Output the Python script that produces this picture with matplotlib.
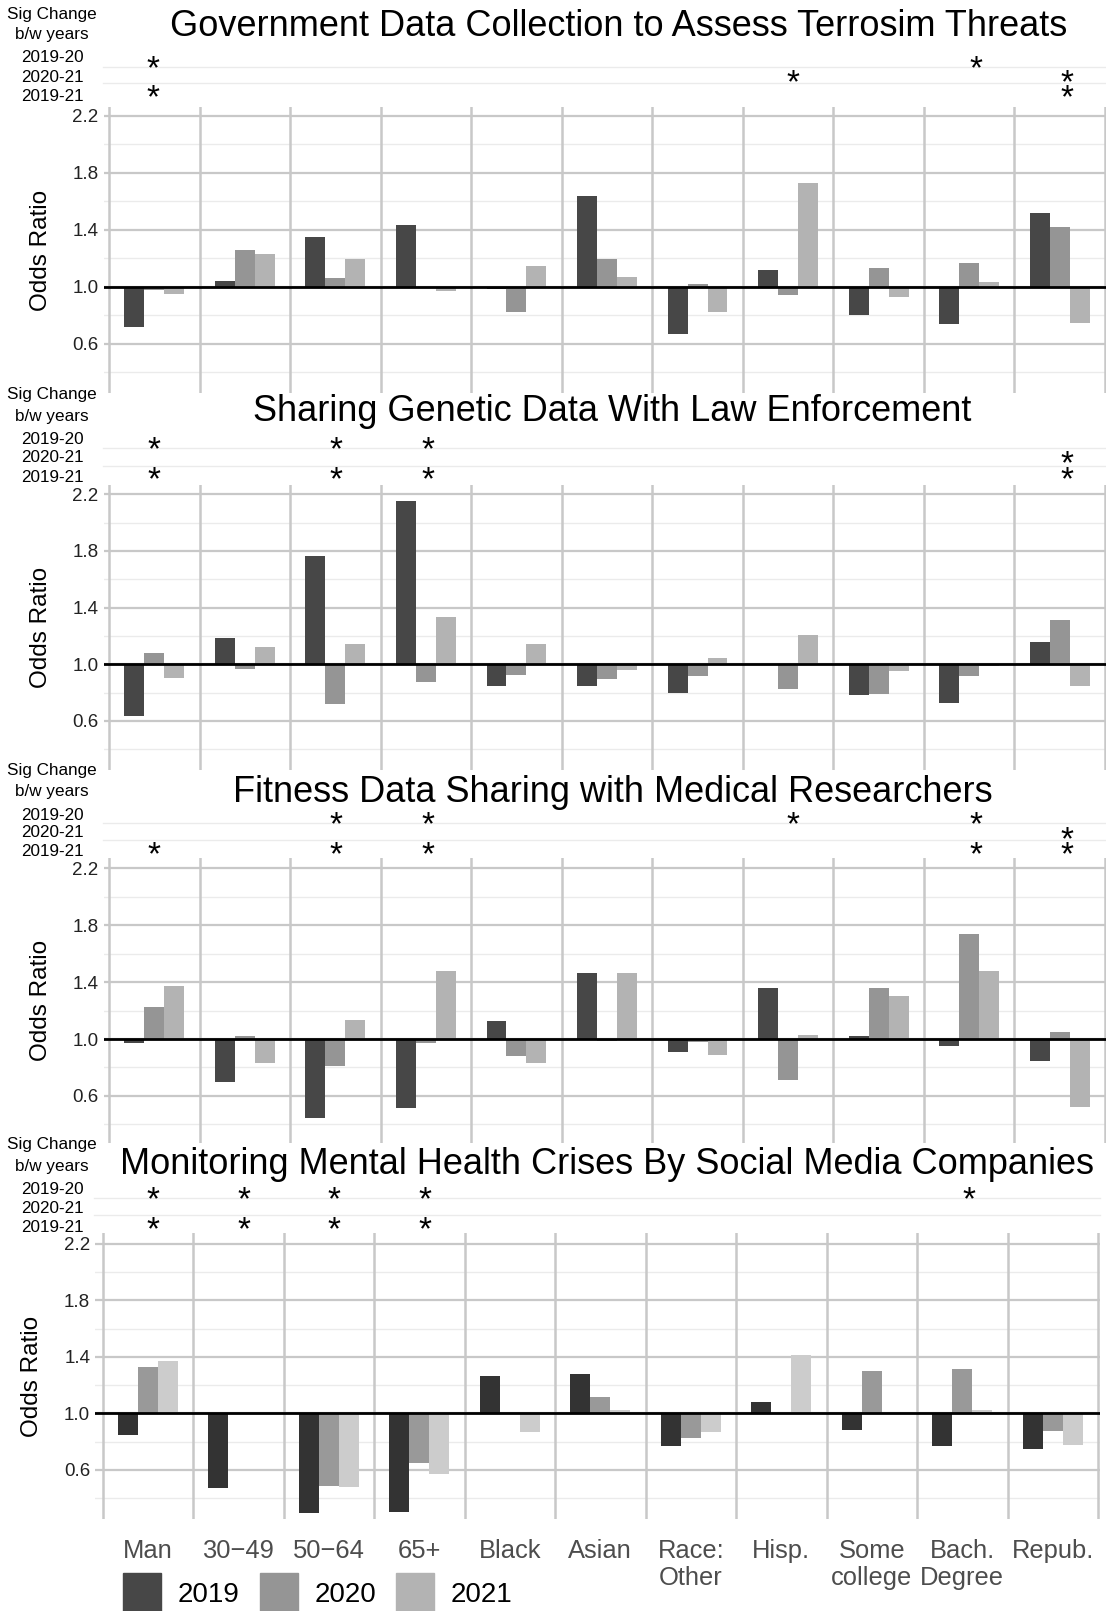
import matplotlib
matplotlib.use("Agg")
import matplotlib.pyplot as plt
from matplotlib.patches import Rectangle
from matplotlib.transforms import blended_transform_factory
import numpy as np

plt.rcParams['font.family'] = ['Liberation Sans', 'DejaVu Sans']

# ---------------- data ----------------
categories = ["Man", "30\u221249", "50\u221264", "65+", "Black", "Asian", "Race:\nOther",
              "Hisp.", "Some\ncollege", "Bach.\nDegree", "Repub."]
years = ["2019", "2020", "2021"]
sig_rows = ["2019-20", "2020-21", "2019-21"]

titles = ["Government Data Collection to Assess Terrosim Threats",
          "Sharing Genetic Data With Law Enforcement",
          "Fitness Data Sharing with Medical Researchers",
          "Monitoring Mental Health Crises By Social Media Companies"]

# odds ratios: panel -> year
terror_2019 = [0.715, 1.042, 1.35, 1.433, 0.985, 1.636, 0.668, 1.12, 0.80, 0.735, 1.515]
terror_2020 = [0.977, 1.255, 1.06, 1.0, 0.82, 1.194, 1.016, 0.94, 1.13, 1.164, 1.42]
terror_2021 = [0.95, 1.23, 1.197, 0.97, 1.147, 1.07, 0.82, 1.732, 0.93, 1.033, 0.742]

genetic_2019 = [0.633, 1.188, 1.765, 2.155, 0.845, 0.847, 0.80, 1.005, 0.784, 0.73, 1.16]
genetic_2020 = [1.082, 0.97, 0.722, 0.875, 0.927, 0.896, 0.918, 0.828, 0.788, 0.92, 1.313]
genetic_2021 = [0.90, 1.122, 1.144, 1.334, 1.146, 0.962, 1.047, 1.207, 0.95, 0.985, 0.845]

fitness_2019 = [0.972, 0.696, 0.442, 0.513, 1.125, 1.461, 0.91, 1.36, 1.02, 0.953, 0.847]
fitness_2020 = [1.228, 1.02, 0.812, 0.97, 0.882, 0.984, 0.976, 0.713, 1.358, 1.739, 1.05]
fitness_2021 = [1.376, 0.833, 1.132, 1.478, 0.833, 1.464, 0.885, 1.026, 1.30, 1.48, 0.522]

mental_2019 = [0.845, 0.468, 0.292, 0.30, 1.264, 1.278, 0.77, 1.082, 0.88, 0.767, 0.744]
mental_2020 = [1.327, 1.0, 0.487, 0.65, 1.0, 1.115, 0.828, 1.0, 1.30, 1.315, 0.875]
mental_2021 = [1.369, 1.0, 0.475, 0.572, 0.868, 1.024, 0.868, 1.41, 1.0, 1.02, 0.774]

# significant changes (category indices, 0-based) per row: 2019-20, 2020-21, 2019-21
terror_sig = [[0, 9], [7, 10], [0, 10]]
genetic_sig = [[0, 2, 3], [10], [0, 2, 3, 10]]
fitness_sig = [[2, 3, 7, 9], [10], [0, 2, 3, 9, 10]]
mental_sig = [[0, 1, 2, 3, 9], [], [0, 1, 2, 3]]

panel_values = [
    [terror_2019, terror_2020, terror_2021],
    [genetic_2019, genetic_2020, genetic_2021],
    [fitness_2019, fitness_2020, fitness_2021],
    [mental_2019, mental_2020, mental_2021],
]
panel_sigs = [terror_sig, genetic_sig, fitness_sig, mental_sig]

# ---------------- layout (pixels) ----------------
W, H = 1106, 1611
fig = plt.figure(figsize=(W / 100, H / 100), dpi=100)

def fx(x):
    return x / W

def fy(y):
    return 1 - y / H

colors_a = ["#474747", "#959595", "#b3b3b3"]
colors_b = ["#333333", "#999999", "#cccccc"]

layout = [
    dict(L=103.5, R=1106, V0=109, V1=1105, top=107, bot=393, y22=116, y10=286.7,
         title=(619, 26), lab=[14, 35, 58, 77, 96.7], stars=[62, 76, 90.7], lines=[67, 83],
         S1=153, S11=1067, colors=colors_a),
    dict(L=103.5, R=1106, V0=109, V1=1105, top=485, bot=770, y22=494.3, y10=664.3,
         title=(612, 411.7), lab=[395, 416.7, 440, 458, 477.7], stars=[443.3, 457.3, 473.3],
         lines=[448.3, 465.7], S1=153.5, S11=1067, colors=colors_a),
    dict(L=103.5, R=1106, V0=109, V1=1105, top=858.3, bot=1143, y22=868.3, y10=1039,
         title=(613, 792.7), lab=[770, 791.7, 815, 832.7, 851.7], stars=[818.3, 832.5, 847.7],
         lines=[822.7, 840], S1=153.5, S11=1067, colors=colors_a),
    dict(L=95, R=1100, V0=102.5, V1=1098, top=1233.3, bot=1519.3, y22=1244, y10=1413.3,
         title=(607, 1165), lab=[1145, 1166.7, 1189.3, 1208.3, 1227.7],
         stars=[1193.3, 1208, 1222.7], lines=[1198.3, 1215], S1=153, S11=1060,
         colors=colors_b),
]

x = np.arange(1, len(categories) + 1)
bw = 0.22
offsets = [-bw, 0.0, bw]
star_size = 24
star_em = star_size * 100 / 72.0

for p, lay in enumerate(layout):
    ax = fig.add_axes([fx(lay["L"]), fy(lay["bot"]), (lay["R"] - lay["L"]) / W,
                       (lay["bot"] - lay["top"]) / H])
    unit = (lay["V1"] - lay["V0"]) / 11.0
    ax.set_xlim(0.5 - (lay["V0"] - lay["L"]) / unit, 11.5 + (lay["R"] - lay["V1"]) / unit)
    ppu = (lay["y10"] - lay["y22"]) / 1.2
    ax.set_ylim(1.0 - (lay["bot"] - lay["y10"]) / ppu, 2.2 + (lay["y22"] - lay["top"]) / ppu)

    for v in [0.4, 0.8, 1.2, 1.6, 2.0]:
        ax.axhline(v, color="#ebebeb", lw=1.0, zorder=0)
    for v in [0.6, 1.0, 1.4, 1.8, 2.2]:
        ax.axhline(v, color="#c8c8c8", lw=1.6, zorder=0.5)
    for v in np.arange(0.5, 12, 1.0):
        ax.axvline(v, color="#c8c8c8", lw=1.8, zorder=0.5)

    for k, vals in enumerate(panel_values[p]):
        vals = np.asarray(vals)
        ax.bar(x + offsets[k], vals - 1.0, bottom=1.0, width=bw, color=lay["colors"][k],
               edgecolor="none", zorder=2)
    ax.axhline(1.0, color="black", lw=2.0, zorder=3)

    for s in ax.spines.values():
        s.set_visible(False)
    ax.set_yticks([0.6, 1.0, 1.4, 1.8, 2.2])
    ax.set_yticklabels(["0.6", "1.0", "1.4", "1.8", "2.2"])
    ax.tick_params(axis="y", length=0, pad=3.5, labelsize=13.5, labelcolor="#222222")
    ax.set_ylabel("Odds Ratio", fontsize=17.5, color="black", labelpad=15)
    if p == 3:
        ax.set_xticks(x)
        ax.set_xticklabels(categories, fontsize=18.4, color="#4d4d4d", linespacing=1.15)
        ax.tick_params(axis="x", length=0, pad=14)
    else:
        ax.set_xticks([])

    # title
    fig.text(fx(lay["title"][0]), fy(lay["title"][1]), titles[p], fontsize=26,
             ha="center", va="center", color="black")
    # sig labels
    fig.text(fx(52), fy(lay["lab"][0]), "Sig Change", fontsize=12.3, ha="center", va="center")
    fig.text(fx(52), fy(lay["lab"][1]), "b/w years", fontsize=12.3, ha="center", va="center")
    for r in range(3):
        fig.text(fx(84), fy(lay["lab"][2 + r]), sig_rows[r], fontsize=12.3, ha="right",
                 va="center")

    # significance strip: its own axes with its own category scale
    s_top, s_bot = lay["lines"][0] - 12, lay["lines"][1] + 12
    axs = fig.add_axes([fx(lay["L"] - 1), fy(s_bot), (lay["R"] - lay["L"] + 1) / W,
                        (s_bot - s_top) / H])
    axs.set_axis_off()
    su = (lay["S11"] - lay["S1"]) / 10.0
    axs.set_xlim(1 - (lay["S1"] - (lay["L"] - 1)) / su, 11 + (lay["R"] - lay["S11"]) / su)
    axs.set_ylim(0, 1)
    tline = blended_transform_factory(axs.transAxes, fig.transFigure)
    for ly in lay["lines"]:
        axs.plot([0, 1], [fy(ly), fy(ly)], transform=tline, color="#ebebeb", lw=1.0,
                 clip_on=False, zorder=0)
    trans = blended_transform_factory(axs.transData, fig.transFigure)
    for r in range(3):
        for c in panel_sigs[p][r]:
            base = lay["stars"][r] + 0.58 * star_em - 3
            axs.text(x[c], fy(base), "*", transform=trans, fontsize=star_size,
                     ha="center", va="baseline", color="black", clip_on=False)

# legend
leg_sq = [(123, 1573), (260, 1573), (396, 1573)]
leg_tx = [209, 346, 482]
for k, yr in enumerate(years):
    sx, sy = leg_sq[k]
    fig.patches.append(Rectangle((fx(sx), fy(sy + 38)), 38 / W, 38 / H,
                                 transform=fig.transFigure, color=colors_a[k]))
    fig.text(fx(leg_tx[k]), fy(1595), yr, fontsize=20, ha="center", va="center",
             color="black")

fig.savefig("out.png", dpi=100)
